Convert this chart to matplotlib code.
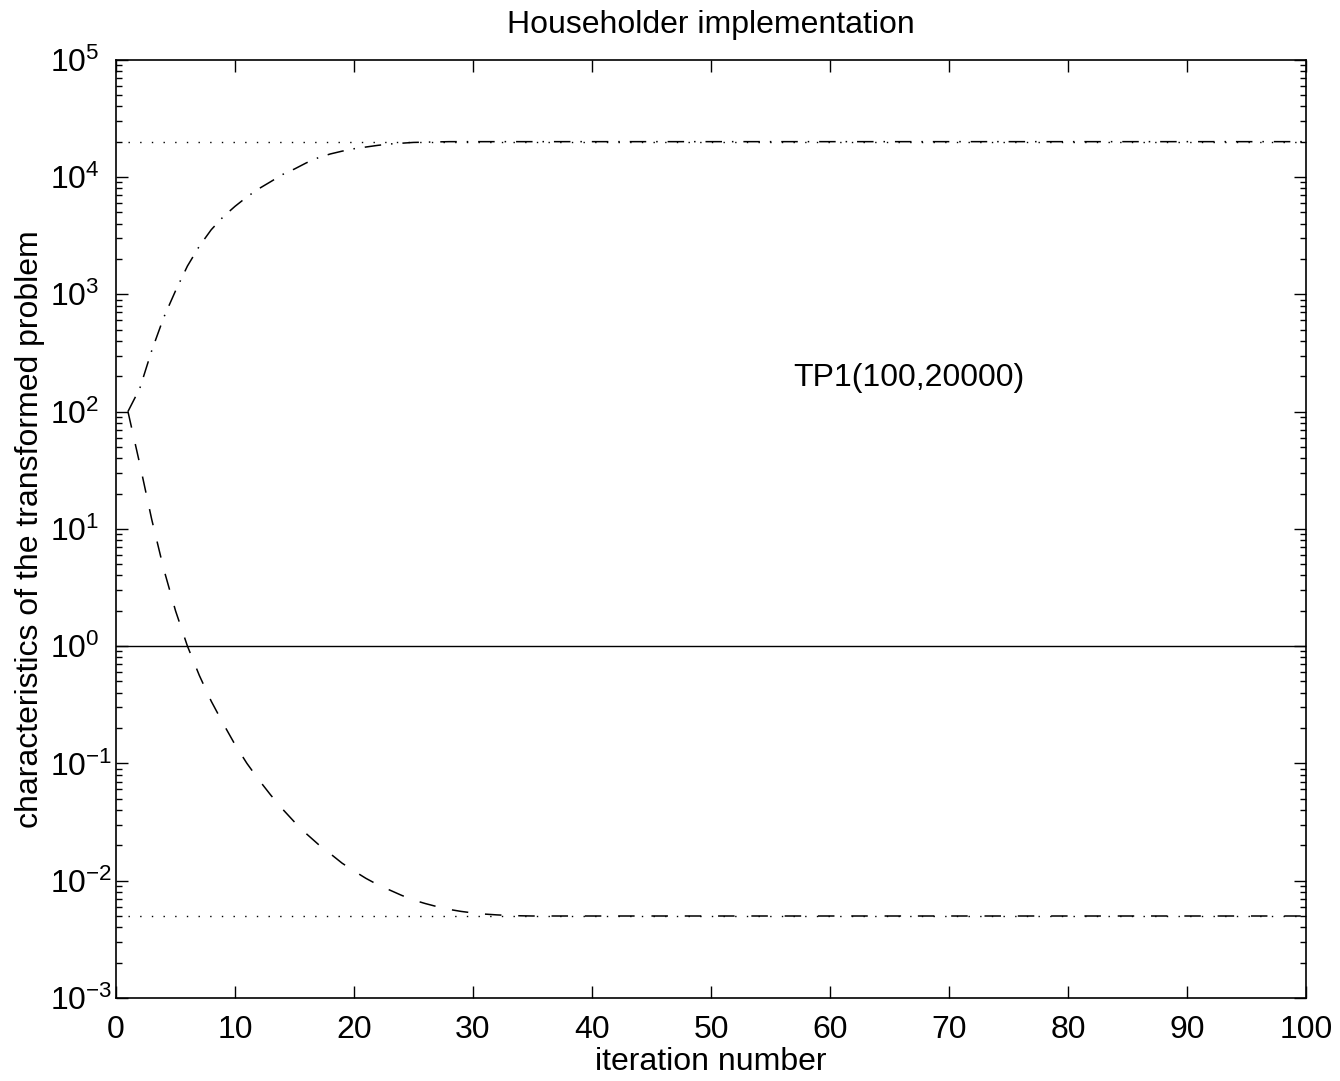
import matplotlib
matplotlib.use("Agg")
import matplotlib.pyplot as plt
from matplotlib.ticker import LogLocator, MultipleLocator, NullFormatter

plt.rcParams['font.family'] = ['Liberation Sans', 'DejaVu Sans']
plt.rcParams['mathtext.default'] = 'regular'

# characteristics per iteration
iters_up = list(range(1, 29)) + [100]
upper_char = [100, 158, 331, 631, 1070, 1740, 2570, 3550, 4570, 5620,
              6760, 7940, 9120, 10500, 11700, 13200, 14600, 15700, 16600, 17400,
              18000, 18600, 19100, 19400, 19700, 19800, 19900, 20000, 20000]

iters_down = list(range(1, 36)) + [100]
lower_char = [100, 35.5, 12.0, 4.57, 2.0, 1.0, 0.562, 0.339, 0.219, 0.1445,
              0.1, 0.0724, 0.0537, 0.0407, 0.0316, 0.0251, 0.0204, 0.0170, 0.0141, 0.0121,
              0.01047, 0.00923, 0.00832, 0.0075, 0.00684, 0.00638, 0.0060, 0.00569, 0.00547, 0.00531,
              0.00519, 0.00511, 0.00505, 0.00502, 0.0050, 0.0050]

upper_limit = 20000
lower_limit = 0.005
unit_level = 1.0
x_range = [0, 100]
ref_range = [1, 100]
decades = [1e-3, 1e-2, 1e-1, 1e0, 1e1, 1e2, 1e3, 1e4, 1e5]

fs = 23

fig = plt.figure(figsize=(13.4, 10.81), dpi=100)
ax = fig.add_axes([0.0866, 0.0768, 0.888, 0.868])

dotted = (0, (1, 7.4))
dashdot = (0, (10.8, 6.5, 1, 6.5))
dashed = (0, (10.8, 11))

ax.plot(ref_range, [upper_limit, upper_limit], color='k', lw=1.0, ls=dotted)
ax.plot(ref_range, [lower_limit, lower_limit], color='k', lw=1.0, ls=dotted)
ax.plot(x_range, [unit_level, unit_level], color='k', lw=1.0, ls='-')
ax.plot(iters_up, upper_char, color='k', lw=1.1, ls=dashdot)
ax.plot(iters_down, lower_char, color='k', lw=1.1, ls=dashed)

ax.set_yscale('log')
ax.set_xlim(0, 100)
ax.set_ylim(1e-3, 1e5)
ax.xaxis.set_major_locator(MultipleLocator(10))
ax.set_yticks(decades)
ax.yaxis.set_minor_locator(LogLocator(base=10, subs=range(2, 10), numticks=100))
ax.yaxis.set_minor_formatter(NullFormatter())

ax.tick_params(which='both', direction='in', top=True, right=True, width=1.0, labelsize=fs)
ax.tick_params(which='major', length=8.6)
ax.tick_params(which='minor', length=4.3)
ax.tick_params(axis='x', pad=12)
# decade labels start at a common left edge, exponent hangs to the right
ax.tick_params(axis='y', pad=47.5)
plt.setp(ax.get_yticklabels(), ha='left')
for s in ax.spines.values():
    s.set_linewidth(1.2)

ax.text(56.9, 193, 'TP1(100,20000)', fontsize=fs, ha='left', va='center')
ax.set_title('Householder implementation', fontsize=fs, pad=19)
ax.set_xlabel('iteration number', fontsize=fs, labelpad=2)
ax.set_ylabel('characteristics of the transformed problem', fontsize=fs)
ax.yaxis.set_label_coords(-0.0597, 0.5)

fig.savefig('out.png', dpi=100, facecolor='white')
